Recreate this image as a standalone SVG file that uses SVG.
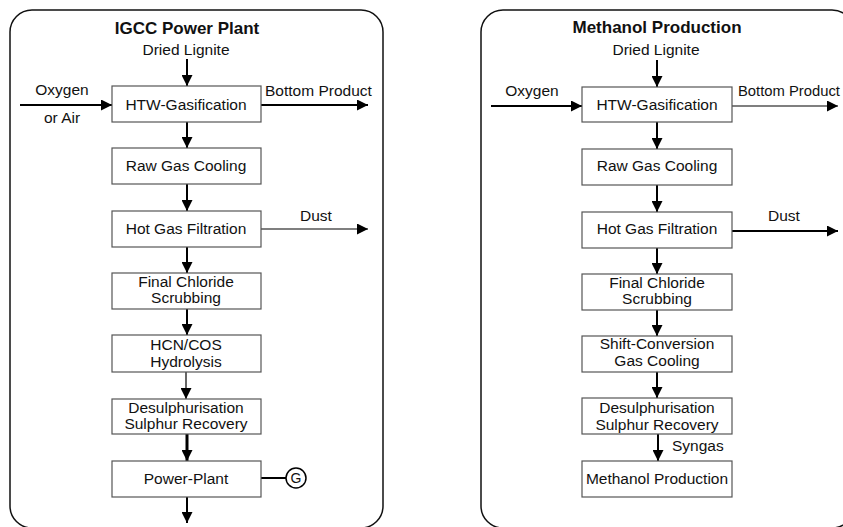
<svg xmlns="http://www.w3.org/2000/svg" width="843" height="527" viewBox="0 0 843 527">
<defs>
<style>
text{font-family:"Liberation Sans",Arial,sans-serif;font-size:15.5px;fill:#111;}
.title{font-weight:bold;font-size:17px;}
.mid{text-anchor:middle;}
.panel{fill:none;stroke:#111;stroke-width:1.5;}
.box{fill:#fff;stroke:#555;stroke-width:1.2;}
.c2{stroke:#000;stroke-width:2;fill:none;}
.c1{stroke:#000;stroke-width:1.2;fill:none;}
.c3{stroke:#000;stroke-width:3;fill:none;}
</style>
<marker id="ah" markerUnits="userSpaceOnUse" markerWidth="11" markerHeight="11" refX="10" refY="5" orient="auto" viewBox="0 0 10 10">
<path d="M0,0 L10,5 L0,10 Z" fill="#000"/>
</marker>
</defs>
<rect width="843" height="527" fill="#fff"/>
<g id="panel-igcc">
<rect class="panel" x="10" y="10" width="373" height="518" rx="22" ry="22"/>
<text class="title mid" x="187" y="34">IGCC Power Plant</text>
<text class="mid" x="186" y="55">Dried Lignite</text>
<text class="mid" x="62" y="95">Oxygen</text>
<text class="mid" x="62" y="123">or Air</text>
<text x="265" y="96">Bottom Product</text>
<text x="300" y="221">Dust</text>
</g>
<g id="panel-methanol">
<rect class="panel" x="481" y="10" width="373" height="518" rx="22" ry="22"/>
<text class="title mid" x="657" y="33">Methanol Production</text>
<text class="mid" x="656" y="55">Dried Lignite</text>
<text class="mid" x="532" y="96">Oxygen</text>
<text x="738" y="96" style="font-size:14.8px">Bottom Product</text>
<text x="768" y="221">Dust</text>
<text x="672" y="451">Syngas</text>
</g>
<g id="connectors">
<line class="c2" x1="187" y1="59" x2="187" y2="86" marker-end="url(#ah)"/>
<line class="c2" x1="20" y1="105" x2="112" y2="105" marker-end="url(#ah)"/>
<line class="c2" x1="261" y1="105" x2="368" y2="105" marker-end="url(#ah)"/>
<line class="c2" x1="187" y1="122" x2="187" y2="148" marker-end="url(#ah)"/>
<line class="c2" x1="187" y1="184" x2="187" y2="211" marker-end="url(#ah)"/>
<line class="c1" x1="261" y1="229" x2="368" y2="229" marker-end="url(#ah)"/>
<line class="c2" x1="187" y1="247" x2="187" y2="273" marker-end="url(#ah)"/>
<line class="c2" x1="187" y1="309" x2="187" y2="335" marker-end="url(#ah)"/>
<line class="c1" x1="186" y1="372" x2="186" y2="399" marker-end="url(#ah)"/>
<line class="c3" x1="187" y1="434" x2="187" y2="461" marker-end="url(#ah)"/>
<line class="c2" x1="261" y1="478" x2="286" y2="478"/>
<line class="c2" x1="187" y1="497" x2="187" y2="523" marker-end="url(#ah)"/>
<line class="c2" x1="657" y1="60" x2="657" y2="87" marker-end="url(#ah)"/>
<line class="c2" x1="491" y1="106" x2="582" y2="106" marker-end="url(#ah)"/>
<line class="c1" x1="732" y1="106" x2="838" y2="106" marker-end="url(#ah)"/>
<line class="c2" x1="657" y1="122" x2="657" y2="149" marker-end="url(#ah)"/>
<line class="c2" x1="657" y1="185" x2="657" y2="212" marker-end="url(#ah)"/>
<line class="c2" x1="732" y1="231" x2="838" y2="231" marker-end="url(#ah)"/>
<line class="c2" x1="657" y1="248" x2="657" y2="274" marker-end="url(#ah)"/>
<line class="c2" x1="657" y1="310" x2="657" y2="336" marker-end="url(#ah)"/>
<line class="c2" x1="657" y1="372" x2="657" y2="398" marker-end="url(#ah)"/>
<line class="c2" x1="658" y1="434" x2="658" y2="461" marker-end="url(#ah)"/>
</g>
<g id="igcc-htw"><rect class="box" x="112" y="86" width="149" height="36"/><text class="mid" x="186" y="110">HTW-Gasification</text></g>
<g id="igcc-raw"><rect class="box" x="112" y="148" width="149" height="36"/><text class="mid" x="186" y="171">Raw Gas Cooling</text></g>
<g id="igcc-hot"><rect class="box" x="112" y="211" width="149" height="36"/><text class="mid" x="186" y="234">Hot Gas Filtration</text></g>
<g id="igcc-chloride"><rect class="box" x="112" y="273" width="149" height="36"/><text class="mid" x="186" y="287">Final Chloride</text><text class="mid" x="186" y="303">Scrubbing</text></g>
<g id="igcc-hcn"><rect class="box" x="112" y="335" width="149" height="37"/><text class="mid" x="186" y="350">HCN/COS</text><text class="mid" x="186" y="367">Hydrolysis</text></g>
<g id="igcc-desulph"><rect class="box" x="112" y="399" width="149" height="35"/><text class="mid" x="186" y="413">Desulphurisation</text><text class="mid" x="186" y="429">Sulphur Recovery</text></g>
<g id="igcc-power"><rect class="box" x="112" y="461" width="149" height="36"/><text class="mid" x="186" y="484">Power-Plant</text></g>
<g id="igcc-generator"><circle cx="296" cy="478" r="10" fill="#fff" stroke="#000" stroke-width="1.5"/><text class="mid" x="296" y="483" style="font-size:14px">G</text></g>
<g id="meoh-htw"><rect class="box" x="582" y="87" width="150" height="35"/><text class="mid" x="657" y="110">HTW-Gasification</text></g>
<g id="meoh-raw"><rect class="box" x="582" y="149" width="150" height="36"/><text class="mid" x="657" y="171">Raw Gas Cooling</text></g>
<g id="meoh-hot"><rect class="box" x="582" y="212" width="150" height="36"/><text class="mid" x="657" y="234">Hot Gas Filtration</text></g>
<g id="meoh-chloride"><rect class="box" x="582" y="274" width="150" height="36"/><text class="mid" x="657" y="288">Final Chloride</text><text class="mid" x="657" y="304">Scrubbing</text></g>
<g id="meoh-shift"><rect class="box" x="582" y="336" width="150" height="36"/><text class="mid" x="657" y="349">Shift-Conversion</text><text class="mid" x="657" y="366">Gas Cooling</text></g>
<g id="meoh-desulph"><rect class="box" x="582" y="398" width="150" height="36"/><text class="mid" x="657" y="413">Desulphurisation</text><text class="mid" x="657" y="430">Sulphur Recovery</text></g>
<g id="meoh-methanol"><rect class="box" x="582" y="461" width="150" height="36"/><text class="mid" x="657" y="484">Methanol Production</text></g>
</svg>
